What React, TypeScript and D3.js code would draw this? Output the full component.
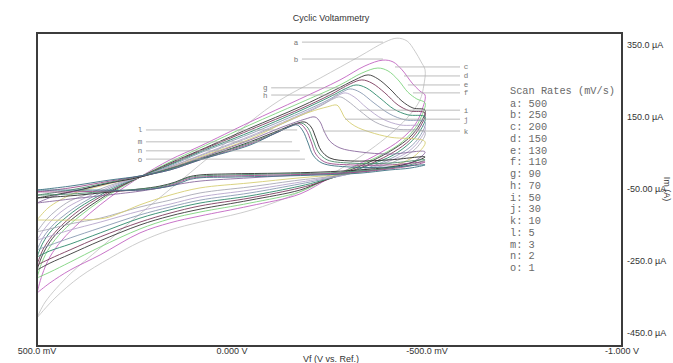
import React from "react";
import * as d3 from "d3";

type Pt = [number, number]; // [potential mV, current µA]

const scanLetters = ["a", "b", "c", "d", "e", "f", "g", "h", "i", "j", "k", "l", "m", "n", "o"];
const scanRates = [500, 250, 200, 150, 130, 110, 90, 70, 50, 30, 10, 5, 3, 2, 1];

const xTicks = [500, 0, -500, -1000];
const xTickLabels = ["500.0 mV", "0.000 V", "-500.0 mV", "-1.000 V"];
const yTicks = [350, 150, -50, -250, -450];
const yTickLabels = ["350.0 µA", "150.0 µA", "-50.00 µA", "-250.0 µA", "-450.0 µA"];

// each loop: forward scan 500 -> -500 mV, then back to 500 mV
const cvA: Pt[] = [[500,-408],[479,-364],[415,-286],[338,-214],[236,-119],[133,-28],[31,64],[-46,136],[-123,197],[-226,258],[-328,319],[-392,358],[-423,369],[-449,361],[-469,333],[-485,303],[-495,281],
  [-492,239],[-482,197],[-456,156],[-418,114],[-367,69],[-303,22],[-238,-19],[-174,-58],[-97,-92],[-21,-117],[82,-142],[159,-164],[236,-197],[313,-242],[390,-294],[454,-353],[500,-408]];
const cvB: Pt[] = [[500,-339],[487,-289],[467,-239],[436,-192],[390,-142],[338,-94],[287,-53],[236,-17],[159,31],[82,69],[-46,136],[-174,200],[-277,253],[-341,292],[-387,308],[-413,303],[-436,281],[-462,244],[-482,222],[-495,211],
  [-487,169],[-469,128],[-431,86],[-379,50],[-315,14],[-251,-19],[-174,-64],[-46,-97],[82,-125],[159,-144],[236,-172],[338,-233],[415,-275],[467,-311],[500,-339]];
const cvC: Pt[] = [[500,-297],[487,-253],[467,-211],[436,-169],[390,-125],[338,-83],[287,-47],[236,-17],[159,25],[82,64],[-46,128],[-174,189],[-277,239],[-333,272],[-374,286],[-400,278],[-426,253],[-451,219],[-474,200],[-495,189],
  [-485,150],[-464,111],[-426,72],[-367,36],[-303,6],[-238,-25],[-174,-58],[-46,-89],[82,-114],[159,-133],[236,-161],[338,-211],[415,-253],[467,-281],[500,-297]];
const cvD: Pt[] = [[500,-275],[487,-236],[467,-197],[436,-158],[390,-117],[338,-78],[287,-44],[236,-17],[159,22],[82,58],[-46,119],[-174,178],[-264,225],[-315,253],[-349,267],[-374,256],[-405,228],[-436,194],[-464,175],[-495,169],
  [-482,131],[-456,94],[-415,61],[-359,28],[-290,-3],[-226,-31],[-174,-53],[-46,-81],[82,-106],[159,-125],[236,-150],[338,-194],[415,-231],[467,-256],[500,-275]];
const cvE: Pt[] = [[500,-261],[485,-219],[462,-181],[428,-142],[390,-108],[338,-72],[287,-42],[236,-17],[159,19],[82,56],[-46,114],[-174,172],[-251,211],[-303,242],[-333,253],[-359,244],[-392,217],[-426,183],[-456,167],[-495,161],
  [-482,122],[-456,86],[-415,53],[-359,22],[-290,-6],[-226,-31],[-174,-47],[-46,-75],[82,-97],[159,-117],[236,-142],[338,-183],[415,-219],[467,-244],[500,-261]];
const cvF: Pt[] = [[500,-239],[485,-200],[462,-164],[428,-131],[390,-100],[338,-67],[287,-39],[236,-17],[159,17],[82,53],[-46,108],[-174,167],[-251,206],[-290,228],[-318,239],[-344,231],[-379,203],[-415,172],[-451,156],[-495,150],
  [-482,111],[-456,78],[-413,44],[-354,17],[-290,-8],[-226,-28],[-174,-42],[-46,-69],[82,-89],[159,-108],[236,-131],[338,-172],[415,-203],[467,-222],[500,-239]];
const cvG: Pt[] = [[500,-219],[482,-181],[456,-147],[423,-117],[385,-89],[338,-61],[287,-36],[236,-17],[159,14],[82,50],[-46,103],[-174,161],[-246,197],[-282,219],[-303,228],[-328,219],[-364,189],[-405,158],[-444,142],[-495,136],
  [-482,97],[-454,64],[-410,36],[-354,11],[-290,-11],[-226,-25],[-174,-36],[-46,-61],[82,-81],[159,-100],[236,-122],[338,-158],[415,-186],[467,-206],[500,-219]];
const cvH: Pt[] = [[500,-192],[479,-158],[454,-128],[421,-100],[377,-75],[338,-56],[287,-33],[236,-17],[159,11],[82,44],[-46,97],[-174,156],[-238,189],[-269,208],[-290,217],[-313,206],[-346,175],[-387,144],[-431,128],[-495,122],
  [-479,83],[-451,53],[-405,28],[-349,6],[-290,-11],[-226,-22],[-174,-31],[-46,-53],[82,-72],[159,-92],[236,-111],[338,-142],[415,-164],[467,-181],[500,-192]];
const cvI: Pt[] = [[500,-169],[477,-136],[449,-108],[415,-83],[377,-67],[338,-50],[287,-31],[236,-17],[159,11],[82,42],[-46,94],[-174,153],[-231,183],[-259,200],[-277,206],[-297,194],[-328,167],[-367,136],[-418,117],[-495,108],
  [-477,69],[-446,42],[-400,19],[-341,3],[-277,-11],[-226,-19],[-174,-25],[-46,-44],[82,-61],[159,-81],[236,-100],[338,-131],[415,-147],[467,-161],[500,-169]];
const cvJ: Pt[] = [[500,-136],[472,-103],[441,-81],[403,-61],[338,-42],[287,-28],[236,-17],[159,8],[82,39],[-46,89],[-149,142],[-200,164],[-244,178],[-269,183],[-279,169],[-290,147],[-315,125],[-354,108],[-405,94],[-495,81],
  [-474,47],[-441,25],[-392,8],[-328,-3],[-264,-11],[-174,-19],[-46,-33],[82,-47],[159,-67],[236,-94],[287,-117],[326,-131],[390,-136],[500,-136]];
const cvK: Pt[] = [[500,-89],[454,-69],[390,-53],[313,-33],[236,-17],[159,8],[82,36],[-46,86],[-136,125],[-187,144],[-213,150],[-226,136],[-236,111],[-251,83],[-277,64],[-328,53],[-405,47],[-495,53],
  [-469,28],[-431,14],[-367,3],[-290,-6],[-174,-11],[-46,-19],[82,-28],[133,-36],[185,-47],[236,-56],[338,-69],[415,-78],[500,-89]];
const cvL: Pt[] = [[500,-75],[415,-58],[313,-33],[236,-17],[159,6],[82,33],[-46,81],[-123,114],[-162,131],[-187,136],[-203,122],[-215,92],[-228,58],[-251,36],[-303,28],[-405,31],[-495,39],
  [-456,22],[-405,11],[-328,3],[-226,-3],[-123,-6],[5,-8],[82,-11],[113,-17],[146,-31],[185,-42],[236,-50],[338,-61],[415,-69],[500,-75]];
const cvM: Pt[] = [[500,-67],[415,-53],[313,-31],[236,-14],[159,6],[82,33],[-46,78],[-123,111],[-156,128],[-179,133],[-195,119],[-208,86],[-221,53],[-244,31],[-303,22],[-405,22],[-495,31],
  [-456,17],[-405,8],[-328,0],[-226,-6],[-123,-8],[5,-11],[82,-14],[113,-19],[146,-33],[185,-44],[236,-50],[338,-58],[415,-64],[500,-67]];
const cvN: Pt[] = [[500,-58],[415,-47],[313,-28],[236,-14],[159,3],[82,31],[-46,75],[-118,108],[-151,125],[-174,131],[-190,114],[-203,81],[-215,47],[-238,25],[-303,17],[-405,17],[-495,25],
  [-456,14],[-405,6],[-328,-3],[-226,-8],[-123,-11],[5,-14],[82,-17],[113,-22],[146,-36],[185,-47],[236,-53],[338,-56],[415,-58],[500,-58]];
const cvO: Pt[] = [[500,-53],[415,-42],[313,-25],[236,-14],[159,3],[82,31],[-46,72],[-113,106],[-146,122],[-167,128],[-182,111],[-195,78],[-208,44],[-231,22],[-303,11],[-405,11],[-495,17],
  [-456,8],[-405,3],[-328,-6],[-226,-11],[-123,-14],[5,-17],[82,-19],[113,-25],[146,-39],[185,-47],[236,-53],[338,-53],[415,-53],[500,-53]];

const loops = [cvA, cvB, cvC, cvD, cvE, cvF, cvG, cvH, cvI, cvJ, cvK, cvL, cvM, cvN, cvO];
const loopColors = ["#c6c6c6", "#c266c2", "#7ed47e", "#3a3a3a", "#7c3c5e", "#2f8a6c", "#8a9ab2", "#b6a6cc", "#aaaab6", "#d6ce74", "#8c6c9e", "#2c2c2c", "#4c8c6c", "#9c4c8c", "#3c7282"];

// curve tags: potential of the letter, current of the leader, potential where the leader ends
const tagE = [-164, -164, -600, -600, -600, -600, -85, -85, -600, -600, -600, 236, 236, 236, 236];
const tagI = [358, 311, 289, 264, 239, 217, 231, 211, 169, 144, 111, 114, 81, 56, 33];
const tagEndE = [-387, -387, -418, -441, -451, -464, -290, -272, -328, -290, -233, -167, -154, -174, -187];

const W = 673, H = 363;
const box = { left: 37, right: 622, top: 33, bottom: 346 };

export default function App() {
  const x = d3.scaleLinear().domain([500, -1000]).range([box.left, box.right]);
  const y = d3.scaleLinear().domain([-450, 350]).range([333, 45]);

  const line = d3.line<Pt>()
    .x(d => x(d[0]))
    .y(d => y(d[1]))
    .curve(d3.curveCatmullRom.alpha(0.5));

  const sans = "'Liberation Sans', Arial, sans-serif";
  const mono = "'Liberation Mono', 'DejaVu Sans Mono', monospace";

  return (
    <svg width={W} height={H} style={{ position: "absolute", left: 0, top: 0, background: "#fff" }}>
      <text x={331} y={21} textAnchor="middle" fontFamily={sans} fontSize={9} fill="#333">Cyclic Voltammetry</text>

      <g>
        {loops.map((pts, i) => (
          <path key={i} d={line(pts) || ""} fill="none" stroke={loopColors[i]} strokeWidth={1} strokeOpacity={0.9} />
        ))}
      </g>

      <g>
        {scanLetters.map((s, i) => {
          const tx = x(tagE[i]);
          const ex = x(tagEndE[i]);
          const ty = y(tagI[i]);
          const sx = tx < ex ? tx + 6 : tx - 6;
          return (
            <g key={s}>
              <line x1={sx} x2={ex} y1={ty} y2={ty} stroke="#ababab" strokeWidth={0.8} />
              <text x={tx} y={ty + 2.5} textAnchor="middle" fontFamily={mono} fontSize={7.5} fill="#777">{s}</text>
            </g>
          );
        })}
      </g>

      <g fontFamily={mono} fontSize={10.3} fill="#6a6a6a">
        <text x={510} y={94}>Scan Rates (mV/s)</text>
        {scanLetters.map((s, i) => (
          <text key={s} x={510} y={106.5 + i * 11.75} style={{ whiteSpace: "pre" }}>{`${s}: ${scanRates[i]}`}</text>
        ))}
      </g>

      <rect x={box.left} y={box.top} width={box.right - box.left} height={box.bottom - box.top}
        fill="none" stroke="#3c3c3c" strokeWidth={2} />

      <g fontFamily={sans} fontSize={9} fill="#333">
        {yTicks.map((t, i) => (
          <text key={t} x={627} y={y(t) + 3}>{yTickLabels[i]}</text>
        ))}
        {xTicks.map((t, i) => (
          <text key={t} x={x(t)} y={354} textAnchor="middle">{xTickLabels[i]}</text>
        ))}
        <text x={331} y={362} textAnchor="middle">Vf (V vs. Ref.)</text>
        <text transform={`translate(664,${y(-50)}) rotate(90)`} textAnchor="middle">Im (A)</text>
      </g>
    </svg>
  );
}
